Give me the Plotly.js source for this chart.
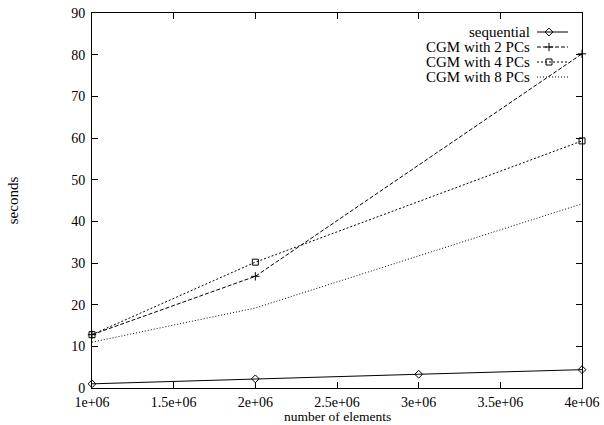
<!DOCTYPE html>
<html><head><meta charset="utf-8">
<script src="https://cdn.plot.ly/plotly-3.0.1.min.js"></script>
<style>html,body{margin:0;padding:0;background:#fff}#c{width:604px;height:425px}</style>
</head><body><div id="c"></div>
<script>
const elements = [1e6, 2e6, 4e6];
const seqElements = [1e6, 2e6, 3e6, 4e6];
const sequential = [1.0, 2.2, 3.3, 4.4];
const cgm2 = [12.8, 26.8, 80.2];
const cgm4 = [12.8, 30.2, 59.3];
const cgm8 = [11.0, 19.2, 44.2];
const seriesNames = ["sequential", "CGM with 2 PCs", "CGM with 4 PCs", "CGM with 8 PCs"];
const xTickVals = [1e6, 1.5e6, 2e6, 2.5e6, 3e6, 3.5e6, 4e6];
const xTickText = ["1e+06", "1.5e+06", "2e+06", "2.5e+06", "3e+06", "3.5e+06", "4e+06"];
const yTickVals = [0, 10, 20, 30, 40, 50, 60, 70, 80, 90];
const xTitle = "number of elements";
const yTitle = "seconds";

const FONT = "Liberation Serif, Times New Roman, serif";
const FS = 15;
const TFS = 14;
const styles = [
  {dash: "solid", symbol: "diamond-open", size: 6, mode: "lines+markers"},
  {dash: "4px,2px", symbol: "cross-thin-open", size: 6, mode: "lines+markers"},
  {dash: "2px,2px", symbol: "square-open", size: 6, mode: "lines+markers"},
  {dash: "1px,2px", symbol: "circle", size: 1, mode: "lines"}
];
const xs = [seqElements, elements, elements, elements];
const ys = [sequential, cgm2, cgm4, cgm8];

const traces = [];
for (let i = 0; i < 4; i++) {
  traces.push({
    x: xs[i], y: ys[i], mode: styles[i].mode, name: seriesNames[i],
    line: {color: "black", width: 1, dash: styles[i].dash},
    marker: {symbol: styles[i].symbol, size: styles[i].size, color: "black", line: {color: "black", width: 1}},
    showlegend: false, cliponaxis: false
  });
}
// Legend samples drawn on a hidden pixel-like overlay axis
const legY = [32, 47, 62, 77];
const annotations = [];
for (let i = 0; i < 4; i++) {
  traces.push({
    x: [537, 568], y: [legY[i], legY[i]], xaxis: "x2", yaxis: "y2", mode: "lines",
    line: {color: "black", width: 1, dash: styles[i].dash}, showlegend: false, hoverinfo: "skip"
  });
  if (styles[i].mode === "lines+markers") {
    traces.push({
      x: [549], y: [legY[i]], xaxis: "x2", yaxis: "y2", mode: "markers",
      marker: {symbol: styles[i].symbol, size: styles[i].size, color: "black", line: {color: "black", width: 1}},
      showlegend: false, hoverinfo: "skip"
    });
  }
  annotations.push({
    x: 532, y: legY[i], xref: "x2", yref: "y2", text: seriesNames[i], showarrow: false,
    xanchor: "right", yanchor: "middle", font: {family: FONT, size: FS, color: "black"}
  });
}
annotations.push({
  x: 0.5, xref: "paper", y: -0.0987, yref: "paper", text: xTitle, showarrow: false,
  xanchor: "center", yanchor: "bottom", borderpad: 0, font: {family: FONT, size: 13.5, color: "black"}
});

const axisCommon = {
  showline: true, linecolor: "black", linewidth: 1, mirror: "ticks",
  ticks: "inside", ticklen: 6, tickcolor: "black", tickwidth: 1,
  showgrid: false, zeroline: false,
  tickfont: {family: FONT, size: TFS, color: "black"}
};
const layout = {
  width: 604, height: 425,
  margin: {l: 92, r: 22, t: 13, b: 37},
  paper_bgcolor: "white", plot_bgcolor: "white",
  xaxis: Object.assign({}, axisCommon, {
    range: [1e6, 4e6], tickmode: "array", tickvals: xTickVals, ticktext: xTickText,
    ticklabelstandoff: 1
  }),
  yaxis: Object.assign({}, axisCommon, {
    range: [0, 90], tickmode: "array", tickvals: yTickVals,
    ticklabelstandoff: 3,
    title: {text: yTitle, font: {family: FONT, size: FS, color: "black"}, standoff: 48}
  }),
  xaxis2: {overlaying: "x", range: [92, 582], visible: false, anchor: "y2"},
  yaxis2: {overlaying: "y", range: [388, 13], visible: false, anchor: "x2"},
  annotations: annotations,
  showlegend: false
};
Plotly.newPlot("c", traces, layout, {staticPlot: true});
</script></body></html>
